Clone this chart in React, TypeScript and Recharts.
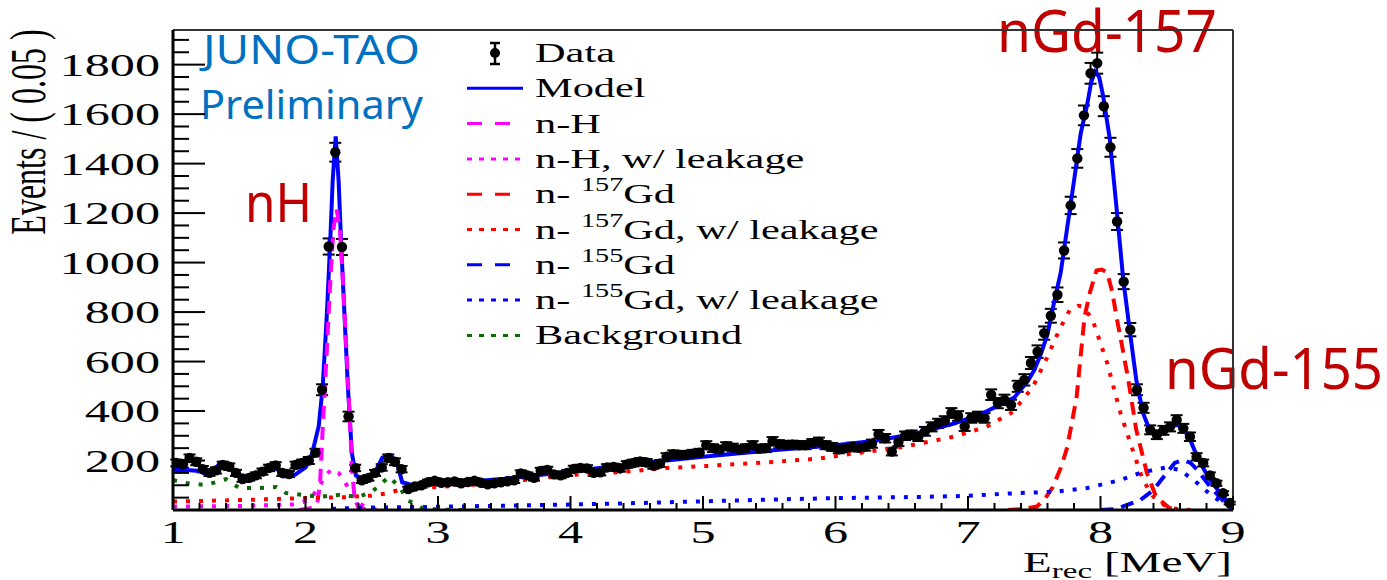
import { ComposedChart, Line, Scatter, ErrorBar, XAxis, YAxis, ReferenceLine } from 'recharts';

// histogram: Events / (0.05) from 1 to 9 MeV
const BIN_LO = 1;
const BIN_W = 0.05;

const counts = [
  190, 185, 210, 195, 165, 150, 160, 182, 175, 150,
  125, 130, 140, 155, 170, 180, 150, 145, 182, 190,
  200, 232, 486, 1065, 1446, 1063, 378, 170, 120, 130,
  150, 172, 210, 195, 165, 85, 95, 100, 112, 118,
  110, 112, 115, 108, 113, 118, 110, 104, 108, 112,
  116, 120, 148, 140, 130, 158, 162, 144, 140, 150,
  166, 170, 168, 150, 152, 172, 174, 168, 184, 190,
  196, 192, 180, 188, 215, 226, 222, 224, 228, 232,
  262, 250, 244, 258, 252, 244, 250, 262, 248, 250,
  278, 266, 262, 264, 262, 262, 270, 276, 262, 255,
  245, 250, 256, 252, 256, 268, 306, 290, 236, 275,
  300, 304, 296, 318, 336, 350, 360, 392, 380, 338,
  372, 378, 372, 466, 432, 445, 425, 500, 526, 594,
  640, 715, 785, 870, 1049, 1231, 1421, 1595, 1765, 1806,
  1632, 1466, 1166, 923, 729, 486, 413, 324, 304, 322,
  336, 364, 330, 296, 215, 190, 140, 108, 68, 28,
];

const modelCurve: [number, number][] = [
  [1.0, 162], [1.1, 162], [1.2, 158], [1.25, 145], [1.3, 152], [1.35, 188], [1.42, 176],
  [1.5, 142], [1.6, 134], [1.7, 160], [1.78, 170], [1.83, 136], [1.92, 142], [2.0, 172],
  [2.05, 228], [2.1, 340], [2.13, 498], [2.16, 780], [2.185, 1065], [2.205, 1330],
  [2.228, 1510], [2.25, 1330], [2.27, 1065], [2.295, 780], [2.32, 498], [2.35, 230],
  [2.38, 140], [2.42, 128], [2.48, 140], [2.53, 158], [2.58, 212], [2.64, 222], [2.69, 192],
  [2.73, 112], [2.8, 101], [2.9, 101], [3.0, 104], [3.5, 126], [4.0, 156], [4.5, 188],
  [5.0, 215], [5.5, 240], [6.0, 262], [6.3, 280], [6.6, 308], [6.9, 350], [7.1, 388],
  [7.25, 428], [7.35, 455], [7.45, 520], [7.5, 565], [7.55, 630], [7.6, 710], [7.65, 840],
  [7.7, 960], [7.75, 1146], [7.8, 1330], [7.85, 1520], [7.9, 1640], [7.93, 1730],
  [7.96, 1772], [7.99, 1750], [8.02, 1673], [8.07, 1500], [8.12, 1227], [8.17, 940],
  [8.22, 729], [8.27, 526], [8.32, 393], [8.37, 324], [8.42, 312], [8.47, 322], [8.52, 336],
  [8.58, 344], [8.63, 325], [8.68, 280], [8.73, 215], [8.78, 165], [8.83, 121], [8.88, 85],
  [8.93, 53], [8.97, 25], [9.0, 8],
];

const nHCurve: [number, number][] = [
  [1.95, 0], [2.05, 8], [2.09, 30], [2.11, 110], [2.13, 330], [2.16, 635], [2.185, 903],
  [2.21, 1134], [2.235, 1215], [2.26, 1134], [2.285, 903], [2.31, 635], [2.335, 365],
  [2.35, 170], [2.37, 50], [2.4, 8], [2.5, 0],
];

const nHLeakCurve: [number, number][] = [
  [1.0, 14], [1.5, 16], [1.9, 22], [2.0, 35], [2.05, 55], [2.1, 90], [2.15, 140], [2.2, 165],
  [2.25, 150], [2.3, 110], [2.35, 65], [2.4, 30], [2.45, 12], [2.5, 5], [2.6, 0],
];

const gd157Curve: [number, number][] = [
  [7.3, 0], [7.42, 4], [7.52, 14], [7.58, 45], [7.64, 93], [7.7, 170], [7.75, 255],
  [7.82, 458], [7.88, 782], [7.92, 879], [7.97, 968], [8.01, 972], [8.05, 960], [8.09, 879],
  [8.12, 782], [8.15, 700], [8.21, 526], [8.27, 324], [8.35, 150], [8.42, 53], [8.52, 8],
  [8.6, 0],
];

const gd157LeakCurve: [number, number][] = [
  [1.0, 34], [1.5, 40], [2.0, 48], [2.3, 52], [2.5, 58], [2.6, 66], [2.7, 80], [2.8, 88],
  [3.0, 93], [3.24, 101], [3.64, 121], [4.02, 142], [4.4, 154], [4.73, 170], [5.03, 178],
  [5.53, 194], [5.88, 208], [6.13, 228], [6.51, 255], [6.89, 296], [7.14, 336], [7.34, 397],
  [7.49, 498], [7.6, 620], [7.69, 729], [7.77, 810], [7.83, 825], [7.87, 822], [7.94, 769],
  [8.05, 595], [8.15, 393], [8.25, 231], [8.32, 121], [8.4, 53], [8.5, 12], [8.6, 2], [8.7, 0],
];

const gd155Curve: [number, number][] = [
  [8.0, 0], [8.12, 4], [8.3, 40], [8.4, 81], [8.5, 150], [8.56, 190], [8.62, 202],
  [8.68, 190], [8.73, 162], [8.83, 93], [8.92, 40], [9.0, 4],
];

const gd155LeakCurve: [number, number][] = [
  [2.2, 5], [2.5, 10], [3.0, 13], [4.0, 22], [4.5, 28], [5.0, 35], [5.5, 42], [6.0, 48],
  [6.64, 53], [7.0, 57], [7.39, 69], [7.64, 73], [7.9, 89], [8.15, 121], [8.3, 150],
  [8.4, 162], [8.5, 172], [8.6, 162], [8.73, 109], [8.85, 53], [8.98, 12], [9.0, 8],
];

const bkgCurve: [number, number][] = [
  [1.0, 121], [1.1, 109], [1.25, 101], [1.4, 125], [1.5, 89], [1.65, 89], [1.78, 93],
  [1.85, 69], [1.98, 61], [2.1, 53], [2.25, 61], [2.4, 53], [2.5, 73], [2.63, 134],
  [2.71, 93], [2.77, 40], [2.88, 8], [3.0, 2], [3.2, 0],
];

const X_TICKS = [
  1, 1.2, 1.4, 1.6, 1.8, 2, 2.2, 2.4, 2.6, 2.8, 3, 3.2, 3.4, 3.6, 3.8, 4, 4.2, 4.4, 4.6, 4.8,
  5, 5.2, 5.4, 5.6, 5.8, 6, 6.2, 6.4, 6.6, 6.8, 7, 7.2, 7.4, 7.6, 7.8, 8, 8.2, 8.4, 8.6, 8.8, 9,
];
const Y_TICKS = [
  0, 50, 100, 150, 200, 250, 300, 350, 400, 450, 500, 550, 600, 650, 700, 750, 800, 850, 900,
  950, 1000, 1050, 1100, 1150, 1200, 1250, 1300, 1350, 1400, 1450, 1500, 1550, 1600, 1650,
  1700, 1750, 1800, 1850, 1900,
];

const dataPoints = counts.map((c, i) => ({ x: BIN_LO + BIN_W * (i + 0.5), y: c, err: Math.sqrt(c) }));
const toXY = (arr: [number, number][]) => arr.map(([x, y]) => ({ x, y }));

const W = 1387;
const H = 580;
const LEFT = 173;
const RIGHT = 1233;
const TOP = 30;
const BOTTOM = 510;
const SERIF = '"Liberation Serif", "Times New Roman", serif';
const SANS = '"Noto Sans", "Open Sans", sans-serif';
const SX = 1.57;

const DASHED = '13 8';
const DOTTED = '4 9';

const series = [
  { name: 'Model', pts: modelCurve, color: '#0000ff', dash: undefined },
  { name: 'n-H', pts: nHCurve, color: '#ff00ff', dash: DASHED },
  { name: 'n-H, w/ leakage', pts: nHLeakCurve, color: '#ff00ff', dash: DOTTED },
  { name: 'n-157Gd', pts: gd157Curve, color: '#ff0000', dash: DASHED },
  { name: 'n-157Gd, w/ leakage', pts: gd157LeakCurve, color: '#ff0000', dash: DOTTED },
  { name: 'n-155Gd', pts: gd155Curve, color: '#0000ff', dash: DASHED },
  { name: 'n-155Gd, w/ leakage', pts: gd155LeakCurve, color: '#0000ff', dash: DOTTED },
  { name: 'Background', pts: bkgCurve, color: '#0b6b0b', dash: DOTTED },
];

const legendRows = [
  { label: 'Data' },
  { label: 'Model', color: '#0000ff' },
  { label: 'n-H', color: '#ff00ff', dash: '15 13' },
  { label: 'n-H, w/ leakage', color: '#ff00ff', dash: '5 7' },
  { label: 'n- ', sup: '157', rest: 'Gd', color: '#ff0000', dash: '15 13' },
  { label: 'n- ', sup: '157', rest: 'Gd, w/ leakage', color: '#ff0000', dash: '5 7' },
  { label: 'n- ', sup: '155', rest: 'Gd', color: '#0000ff', dash: '15 13' },
  { label: 'n- ', sup: '155', rest: 'Gd, w/ leakage', color: '#0000ff', dash: '5 7' },
  { label: 'Background', color: '#0b6b0b', dash: '5 7' },
];

const YTick = (props: any) => {
  const { y, payload } = props;
  const v = payload.value as number;
  const major = v % 200 === 0;
  return (
    <g>
      <line x1={LEFT} x2={LEFT + (major ? 32 : 16)} y1={y} y2={y} stroke="#000" strokeWidth={2} />
      {major && v > 0 && (
        <text transform={`translate(160,${y + 11}) scale(${SX},1)`} textAnchor="end" fontFamily={SERIF} fontSize={32} fill="#000">
          {v}
        </text>
      )}
    </g>
  );
};

const XTick = (props: any) => {
  const { x, payload } = props;
  const v = payload.value as number;
  const major = Math.abs(v - Math.round(v)) < 1e-6;
  return (
    <g>
      <line x1={x} x2={x} y1={BOTTOM} y2={BOTTOM - (major ? 14 : 7)} stroke="#000" strokeWidth={2} />
      {major && (
        <text transform={`translate(${x},543) scale(${SX},1)`} textAnchor="middle" fontFamily={SERIF} fontSize={32} fill="#000">
          {v}
        </text>
      )}
    </g>
  );
};

const DataDot = (props: any) => <circle cx={props.cx} cy={props.cy} r={5.2} fill="#000" />;

function Legend() {
  const x0 = 535;
  return (
    <g>
      {legendRows.map((r: any, i) => {
        const base = 62 + i * 35.3;
        const ly = base - 9;
        return (
          <g key={i}>
            {i === 0 ? (
              <g>
                <line x1={495} x2={495} y1={ly - 10} y2={ly + 11} stroke="#000" strokeWidth={2.5} />
                <line x1={490} x2={500} y1={ly - 10} y2={ly - 10} stroke="#000" strokeWidth={2.5} />
                <line x1={490} x2={500} y1={ly + 11} y2={ly + 11} stroke="#000" strokeWidth={2.5} />
                <circle cx={495} cy={ly} r={5} fill="#000" />
              </g>
            ) : (
              <line x1={467} x2={523} y1={ly} y2={ly} stroke={r.color} strokeWidth={3} strokeDasharray={r.dash} />
            )}
            <text transform={`translate(${x0},${base}) scale(${SX},1)`} fontFamily={SERIF} fontSize={27} fill="#000">
              <tspan>{r.label}</tspan>
              {r.sup && (
                <>
                  <tspan fontSize={18} dy={-12}>{r.sup}</tspan>
                  <tspan dy={12}>{r.rest}</tspan>
                </>
              )}
            </text>
          </g>
        );
      })}
    </g>
  );
}

export default function App() {
  return (
    <div style={{ position: 'absolute', left: 0, top: 0, width: W, height: H, background: '#fff' }}>
      <svg width={W} height={H} style={{ position: 'absolute', left: 0, top: 0 }}>
        <text x={203} y={64} fontFamily={SANS} fontSize={40} fill="#0070c0" textLength={217} lengthAdjust="spacingAndGlyphs">JUNO-TAO</text>
        <text x={200} y={119} fontFamily={SANS} fontSize={40} fill="#0070c0" textLength={223} lengthAdjust="spacingAndGlyphs">Preliminary</text>
        <text x={245} y={222} fontFamily={SANS} fontSize={54} fill="#c00000" textLength={67} lengthAdjust="spacingAndGlyphs">nH</text>
        <text x={997} y={52} fontFamily={SANS} fontSize={58} fill="#c00000" textLength={220} lengthAdjust="spacingAndGlyphs">nGd-157</text>
        <text x={1165} y={389} fontFamily={SANS} fontSize={56} fill="#c00000" textLength={218} lengthAdjust="spacingAndGlyphs">nGd-155</text>
        <Legend />
        <text transform={`translate(45,132) scale(${SX},1) rotate(-90)`} textAnchor="middle" fontFamily={SERIF} fontSize={32} fill="#000">
          Events / ( 0.05 )
        </text>
        <text transform={`translate(1232,572) scale(${SX},1)`} textAnchor="end" fontFamily={SERIF} fontSize={30} fill="#000">
          <tspan>E</tspan>
          <tspan fontSize={21} dy={6}>rec</tspan>
          <tspan dy={-6}>{'  [MeV]'}</tspan>
        </text>
      </svg>
      <div style={{ position: 'absolute', left: 0, top: 0 }}>
        <ComposedChart width={W} height={H} margin={{ top: TOP, right: W - RIGHT, bottom: 0, left: 0 }}>
          <XAxis
            type="number"
            dataKey="x"
            domain={[1, 9]}
            ticks={X_TICKS}
            interval={0}
            tick={<XTick />}
            tickLine={false}
            axisLine={{ stroke: '#000', strokeWidth: 3 }}
            height={H - BOTTOM}
            allowDataOverflow
          />
          <YAxis
            type="number"
            domain={[0, 1940]}
            ticks={Y_TICKS}
            interval={0}
            tick={<YTick />}
            tickLine={false}
            axisLine={{ stroke: '#000', strokeWidth: 3 }}
            width={LEFT}
            allowDataOverflow
          />
          <ReferenceLine y={1940} stroke="#333" strokeWidth={2} />
          <ReferenceLine x={9} stroke="#333" strokeWidth={2} />
          <Scatter data={dataPoints} dataKey="y" fill="#000" shape={<DataDot />} isAnimationActive={false}>
            <ErrorBar dataKey="err" direction="y" width={6} stroke="#000" strokeWidth={2} />
          </Scatter>
          {series.map((s) => (
            <Line
              key={s.name}
              data={toXY(s.pts)}
              dataKey="y"
              type="linear"
              stroke={s.color}
              strokeWidth={4}
              strokeDasharray={s.dash}
              dot={false}
              activeDot={false}
              isAnimationActive={false}
            />
          ))}
        </ComposedChart>
      </div>
    </div>
  );
}
